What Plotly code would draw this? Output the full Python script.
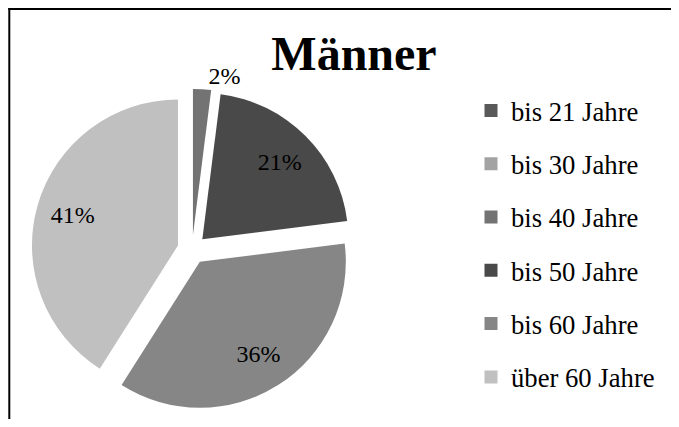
import plotly.graph_objects as go

labels = ["bis 21 Jahre", "bis 30 Jahre", "bis 40 Jahre", "bis 50 Jahre", "bis 60 Jahre", "über 60 Jahre"]
values = [0, 0, 2, 21, 36, 41]
colors = ["#595959", "#a3a3a3", "#737373", "#494949", "#868686", "#c0c0c0"]
title_text = "Männer"

# The page keeps the browser's default 8px body margin, so the figure is
# sized to fill the 679x427 window exactly with that margin around it.
OFF = 8
W, H = 679 - 2 * OFF, 427 - 2 * OFF
FONT = "Liberation Serif, Times New Roman, serif"


def px(sx):          # window x -> paper x
    return (sx - OFF) / W


def py(sy):          # window y -> paper y
    return 1 - (sy - OFF) / H


CX, CY, HALF = 192, 249.5, 160.6
DOM = dict(x=[px(CX - HALF), px(CX + HALF)], y=[py(CY + HALF), py(CY - HALF)])
PULL = [0.1] * len(values)
is_out = [0 < v < 5 for v in values]

fig = go.Figure()
# slices (only the small outside label is drawn by this trace)
fig.add_trace(go.Pie(
    labels=labels, values=values, sort=False, direction="clockwise", rotation=0,
    marker=dict(colors=colors, line=dict(width=0)), pull=PULL,
    texttemplate=["%{percent:.0%}" if o else "" for o in is_out],
    textposition=["outside" if o else "inside" for o in is_out],
    textfont=dict(family=FONT, size=24, color="#000000"),
    showlegend=False, domain=DOM, hoverinfo="label+percent",
))
# transparent ring that carries the inside labels further out from the centre
fig.add_trace(go.Pie(
    labels=labels, values=values, sort=False, direction="clockwise", rotation=0,
    hole=0.5, marker=dict(colors=["rgba(0,0,0,0)"] * len(values), line=dict(width=0)),
    pull=PULL,
    texttemplate=["%{percent:.0%}" if v > 0 else "" for v in values],
    textposition=["outside" if o else "inside" for o in is_out],
    insidetextorientation="horizontal",
    textfont=dict(family=FONT, size=24,
                  color=["rgba(0,0,0,0)" if o else "#000000" for o in is_out]),
    showlegend=False, domain=DOM, hoverinfo="skip",
))

for i, (lab, col) in enumerate(zip(labels, colors)):
    fig.add_trace(go.Scatter(
        x=[None], y=[None], mode="markers", name=lab, legendgroup=f"g{i}",
        marker=dict(symbol="square", size=13, color=col, line=dict(width=0)),
    ))

frame = dict(color="#000000", width=2)
fig.update_layout(
    width=W, height=H, margin=dict(l=0, r=0, t=0, b=0, autoexpand=False),
    paper_bgcolor="white", plot_bgcolor="white",
    title=dict(text=f"<b>{title_text}</b>", x=px(354), xanchor="center",
               y=py(53.5), yanchor="middle",
               font=dict(family=FONT, size=48, color="#000000")),
    xaxis=dict(visible=False), yaxis=dict(visible=False),
    legend=dict(x=px(471), xanchor="left", y=py(86.7), yanchor="top",
                font=dict(family=FONT, size=26.67, color="#000000"),
                tracegroupgap=15.6, bgcolor="rgba(0,0,0,0)"),
    shapes=[
        dict(type="line", xref="paper", yref="paper", x0=px(8.3), x1=1, y0=py(9), y1=py(9), line=frame),
        dict(type="line", xref="paper", yref="paper", x0=px(9.3), x1=px(9.3), y0=0, y1=py(8), line=frame),
    ],
)

fig.write_html("out.html")
